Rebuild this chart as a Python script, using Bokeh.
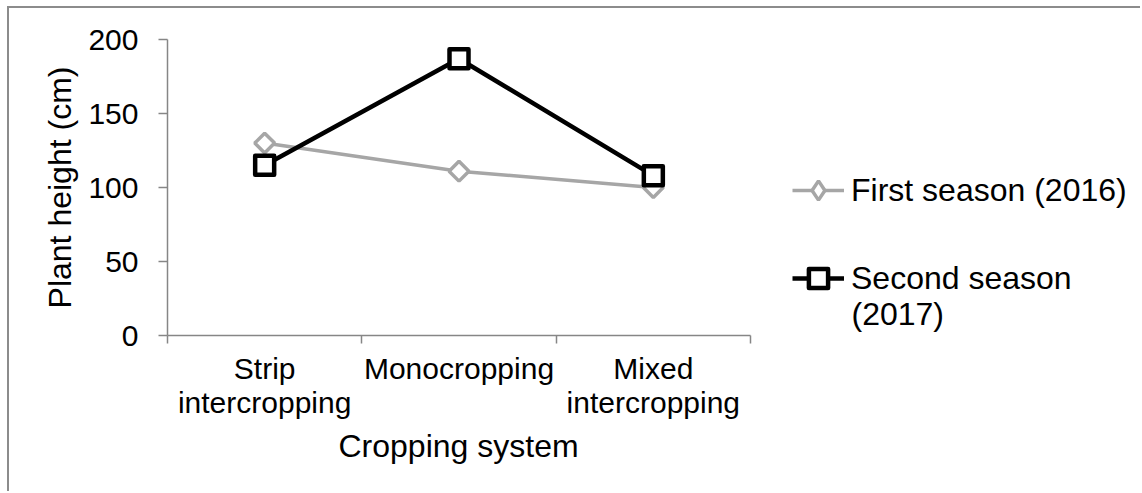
from bokeh.plotting import figure
from bokeh.models import FixedTicker, Legend, LegendItem, Range1d, Label, Title
from bokeh.embed import file_html
from bokeh.resources import INLINE
import math

categories = ["Strip\nintercropping", "Monocropping", "Mixed\nintercropping"]
first_season = [130, 111, 100]
second_season = [115, 187, 108]
y_ticks = [0, 50, 100, 150, 200]
series_names = ["First season (2016)", "Second season", "(2017)"]
x_title = "Cropping system"
y_title = "Plant height (cm)"

xs = [i + 0.5 for i in range(len(categories))]
FONT = "Liberation Sans"
AXIS_GREY = "#868686"
NAN = float("nan")

W, H = 1133, 485
LEFT, TOP, AXIS_PX, FRAME_H = 158, 31, 583, 296
FRAME_W = W - LEFT
x_end = len(categories) * FRAME_W / AXIS_PX

p = figure(width=W, height=H, output_backend="svg", toolbar_location=None,
           x_range=Range1d(0, x_end), y_range=Range1d(0, 200),
           min_border_left=LEFT, min_border_top=TOP, min_border_right=0,
           min_border_bottom=H - TOP - FRAME_H)
p.margin = (6, 0, 0, 7)
p.styles = {"border-left": "2px solid #8c8c8c", "border-top": "2px solid #8c8c8c"}
p.outline_line_color = None
p.xgrid.visible = False
p.ygrid.visible = False
p.background_fill_color = "white"
p.border_fill_color = "white"

r1_line = p.line(xs, first_season, line_color="#a6a6a6", line_width=3.5)
p.scatter(xs, first_season, marker="square", angle=math.pi / 4, size=14,
          line_color="#a6a6a6", line_width=3.5, fill_color="white")
# legend key for the first series (a diamond, as drawn in the plot)
r1_key = p.scatter([NAN], [NAN], marker="diamond", line_color="#a6a6a6", line_width=3.5,
                   fill_color="white")
r2_line = p.line(xs, second_season, line_color="black", line_width=4.5)
r2_pts = p.scatter(xs, second_season, marker="square", size=19,
                   line_color="black", line_width=4.5, fill_color="white", line_join="round")

# x axis
xa = p.xaxis[0]
xa.bounds = (0, len(categories))
xa.ticker = FixedTicker(ticks=xs, minor_ticks=list(range(len(categories) + 1)))
xa.major_label_overrides = {x: c for x, c in zip(xs, categories)}
xa.major_tick_line_color = None
xa.major_tick_out = 0
xa.major_tick_in = 0
xa.minor_tick_out = 8
xa.minor_tick_in = 0
xa.minor_tick_line_color = AXIS_GREY
xa.minor_tick_line_width = 1.5
xa.axis_line_color = AXIS_GREY
xa.axis_line_width = 1.5
xa.major_label_text_font = FONT
xa.major_label_text_font_size = "30px"
xa.major_label_text_line_height = 1.05
xa.major_label_text_color = "black"
xa.major_label_standoff = 8

xt = Title(text=x_title, align="left", offset=171, standoff=6,
           text_font=FONT, text_font_size="32px", text_font_style="normal",
           text_color="black")
p.add_layout(xt, "below")

ya = p.yaxis[0]
ya.ticker = FixedTicker(ticks=y_ticks, minor_ticks=[])
ya.major_tick_out = 9
ya.major_tick_in = 0
ya.major_tick_line_color = AXIS_GREY
ya.major_tick_line_width = 1.5
ya.axis_line_color = AXIS_GREY
ya.axis_line_width = 1.5
ya.major_label_text_font = FONT
ya.major_label_text_font_size = "30px"
ya.major_label_text_color = "black"
ya.major_label_standoff = 20
ya.axis_label = y_title
ya.axis_label_text_font = FONT
ya.axis_label_text_font_size = "32px"
ya.axis_label_text_font_style = "normal"
ya.axis_label_text_color = "black"
ya.axis_label_standoff = 7


def style_legend(lg, gh):
    lg.glyph_width = 52
    lg.glyph_height = gh
    lg.label_standoff = 7
    lg.padding = 0
    lg.margin = 0
    lg.border_line_color = None
    lg.background_fill_alpha = 0
    lg.label_text_font = FONT
    lg.label_text_font_size = "32px"
    lg.label_text_color = "black"


leg_a = Legend(items=[LegendItem(label=series_names[0], renderers=[r1_line, r1_key])],
               location=(625, 121))
style_legend(leg_a, 48)
leg_b = Legend(items=[LegendItem(label=series_names[1], renderers=[r2_line, r2_pts])],
               location=(625, 33))
style_legend(leg_b, 48)
p.add_layout(leg_a, "center")
p.add_layout(leg_b, "center")

p.add_layout(Label(x=684, y=22, x_units="screen", y_units="screen", text=series_names[2],
                   text_font=FONT, text_font_size="32px", text_color="black",
                   text_align="left", text_baseline="middle"))

open("out.html", "w").write(file_html(p, INLINE))
